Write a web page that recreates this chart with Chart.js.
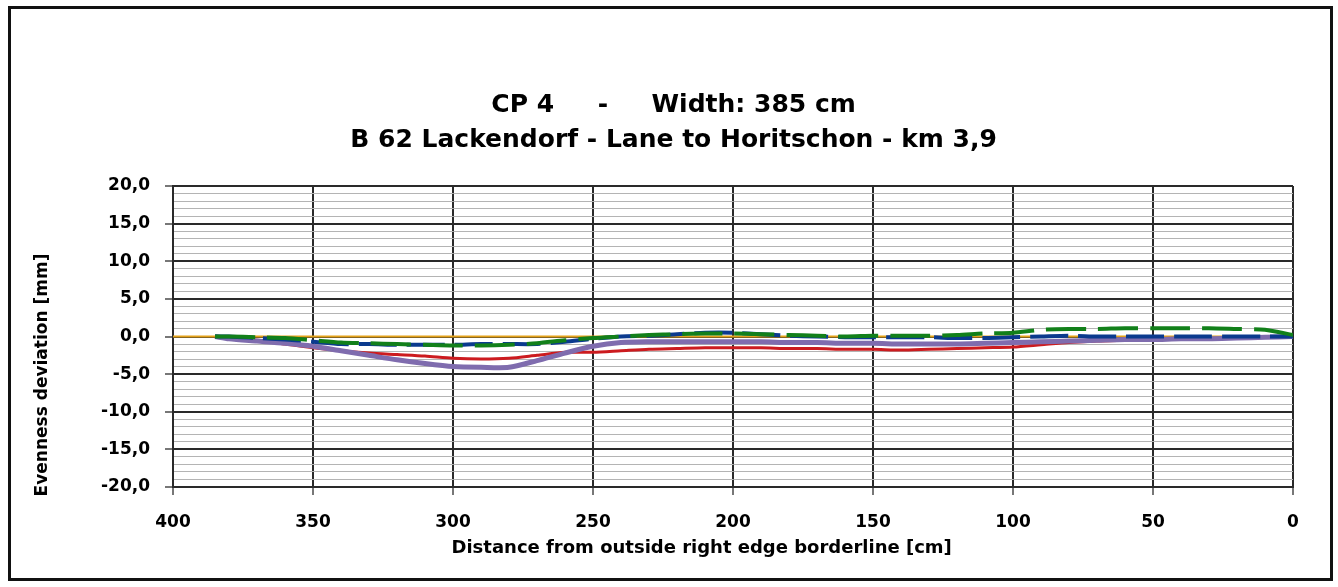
<!DOCTYPE html>
<html>
<head>
<meta charset="utf-8">
<title>CP 4 - Evenness deviation</title>
<script src="https://cdn.jsdelivr.net/npm/chart.js@4/dist/chart.umd.min.js"></script>
<style>
    html, body { margin: 0; padding: 0; background: #fff; }
    #wrap { position: relative; width: 1338px; height: 587px; overflow: hidden; }
    #frame {
        position: absolute; left: 8px; top: 6px; width: 1319px; height: 569px;
        border: 3px solid #111; pointer-events: none;
    }
    #chart { position: absolute; left: 0; top: 0; }
</style>
</head>
<body>
<div id="wrap">
    <canvas id="chart" width="1338" height="587"></canvas>
    <div id="frame"></div>
</div>
<script>
// measuring positions across the lane [cm]
const distances = [385, 380, 370, 360, 350, 340, 330, 320, 310, 300, 290, 280, 270, 260, 250,
    240, 230, 220, 210, 200, 190, 180, 170, 160, 150, 140, 130, 120, 110, 100,
    90, 80, 70, 60, 50, 40, 30, 20, 10, 0];

// deviation readings [mm], one list per measurement run
const runPurple = [0, -0.3, -0.6, -0.9, -1.3, -1.9, -2.5, -3.1, -3.6, -4.0, -4.1, -4.1, -3.2, -2.2, -1.3,
    -0.8, -0.7, -0.7, -0.7, -0.7, -0.7, -0.8, -0.8, -0.9, -0.9, -1.0, -1.0, -1.0, -0.9, -0.8,
    -0.7, -0.6, -0.5, -0.4, -0.4, -0.3, -0.3, -0.2, -0.1, 0];
const runRed = [0, -0.2, -0.5, -1.0, -1.5, -1.9, -2.2, -2.4, -2.6, -2.9, -3.0, -2.9, -2.5, -2.1, -2.1,
    -1.9, -1.7, -1.6, -1.5, -1.5, -1.5, -1.6, -1.6, -1.7, -1.7, -1.8, -1.7, -1.6, -1.5, -1.4,
    -1.1, -0.8, -0.6, -0.5, -0.4, -0.3, -0.3, -0.2, -0.1, 0];
const runGreen = [0, 0, -0.1, -0.2, -0.5, -0.8, -0.9, -1.0, -1.1, -1.2, -1.2, -1.1, -0.9, -0.5, -0.2,
    0, 0.2, 0.3, 0.4, 0.4, 0.3, 0.2, 0.1, 0, 0.1, 0.1, 0.1, 0.2, 0.4, 0.5,
    0.9, 1.0, 1.0, 1.1, 1.1, 1.1, 1.1, 1.0, 0.9, 0.2];
const runBlue = [0, 0, -0.2, -0.4, -0.7, -1.0, -1.0, -1.1, -1.1, -1.1, -1.0, -1.0, -1.0, -0.7, -0.3,
    0, 0.1, 0.3, 0.5, 0.5, 0.3, 0.1, 0, -0.1, -0.1, -0.1, -0.1, -0.2, -0.2, -0.1,
    0, 0.1, 0, 0, 0, 0, 0, 0, 0, 0];

// reference (zero) line
const zeroX = [400, 0];
const zeroY = [0, 0];

const yTicks = { min: -20, max: 20, major: 5, minor: 1 };
const xTicks = { min: 0, max: 400, step: 50 };

const FONT = '"DejaVu Sans", Arial, sans-serif';

function toPoints(xs, ys) {
    return xs.map((x, i) => ({ x: x, y: ys[i] }));
}

function fmtComma(v) {
    return v.toFixed(1).replace('.', ',');
}

const isMajor = v => Math.abs(v % yTicks.major) < 1e-6;

new Chart(document.getElementById('chart').getContext('2d'), {
    type: 'line',
    data: {
        datasets: [
            {
                label: 'Run 4', data: toPoints(distances, runGreen),
                borderColor: '#12801a', borderWidth: 4, borderDash: [40, 12],
                pointRadius: 0, tension: 0.25, order: 1
            },
            {
                label: 'Run 3', data: toPoints(distances, runBlue),
                borderColor: '#0b3a8e', borderWidth: 4, borderDash: [38, 10],
                pointRadius: 0, tension: 0.25, order: 2
            },
            {
                label: 'Run 2', data: toPoints(distances, runPurple),
                borderColor: '#7f6cae', borderWidth: 5,
                pointRadius: 0, tension: 0.25, order: 3
            },
            {
                label: 'Run 1', data: toPoints(distances, runRed),
                borderColor: '#cc1b1f', borderWidth: 3,
                pointRadius: 0, tension: 0.25, order: 4
            },
            {
                label: 'Zero', data: toPoints(zeroX, zeroY),
                borderColor: '#e3a21a', borderWidth: 2,
                pointRadius: 0, order: 5
            }
        ]
    },
    options: {
        responsive: false,
        animation: false,
        layout: { padding: { top: 80, left: 28, right: 45, bottom: 24 } },
        plugins: {
            legend: { display: false },
            tooltip: { enabled: false },
            title: {
                display: true,
                // leading spaces nudge the centred lines a bit to the right
                text: ['   CP 4     -     Width: 385 cm', '   B 62 Lackendorf - Lane to Horitschon - km 3,9'],
                color: '#000',
                font: { family: FONT, size: 25, weight: 'bold', lineHeight: 1.4 },
                padding: { top: 8, bottom: 28 }
            }
        },
        scales: {
            x: {
                type: 'linear',
                reverse: true,
                min: xTicks.min,
                max: xTicks.max,
                afterFit: s => { s.height = 76; },
                ticks: {
                    stepSize: xTicks.step,
                    color: '#000',
                    padding: 17,
                    font: { family: FONT, size: 17, weight: 'bold' }
                },
                grid: { color: '#2a2a2a', lineWidth: 2, tickLength: 8, tickColor: '#777' },
                border: { color: '#2a2a2a', width: 2 },
                title: {
                    display: true,
                    // trailing spaces shift the caption left like in the original sheet
                    text: 'Distance from outside right edge borderline [cm]          ',
                    color: '#000',
                    font: { family: FONT, size: 18, weight: 'bold' },
                    padding: { top: 4, bottom: 4 }
                }
            },
            y: {
                min: yTicks.min,
                max: yTicks.max,
                afterFit: s => { s.width = 145; },
                ticks: {
                    stepSize: yTicks.minor,
                    autoSkip: false,
                    color: '#000',
                    padding: 15,
                    font: { family: FONT, size: 17, weight: 'bold' },
                    callback: v => isMajor(v) ? fmtComma(v) : ''
                },
                grid: {
                    color: c => isMajor(c.tick.value) ? '#2a2a2a' : '#b4b4b4',
                    lineWidth: c => isMajor(c.tick.value) ? 2 : 1,
                    tickLength: 8,
                    tickColor: c => isMajor(c.tick.value) ? '#777' : 'rgba(0,0,0,0)'
                },
                border: { color: '#2a2a2a', width: 2 },
                title: {
                    display: true,
                    text: 'Evenness deviation [mm]             ',
                    color: '#000',
                    font: { family: FONT, size: 17, weight: 'bold' },
                    padding: { top: 4, bottom: 4 }
                }
            }
        }
    }
});
</script>
</body>
</html>
